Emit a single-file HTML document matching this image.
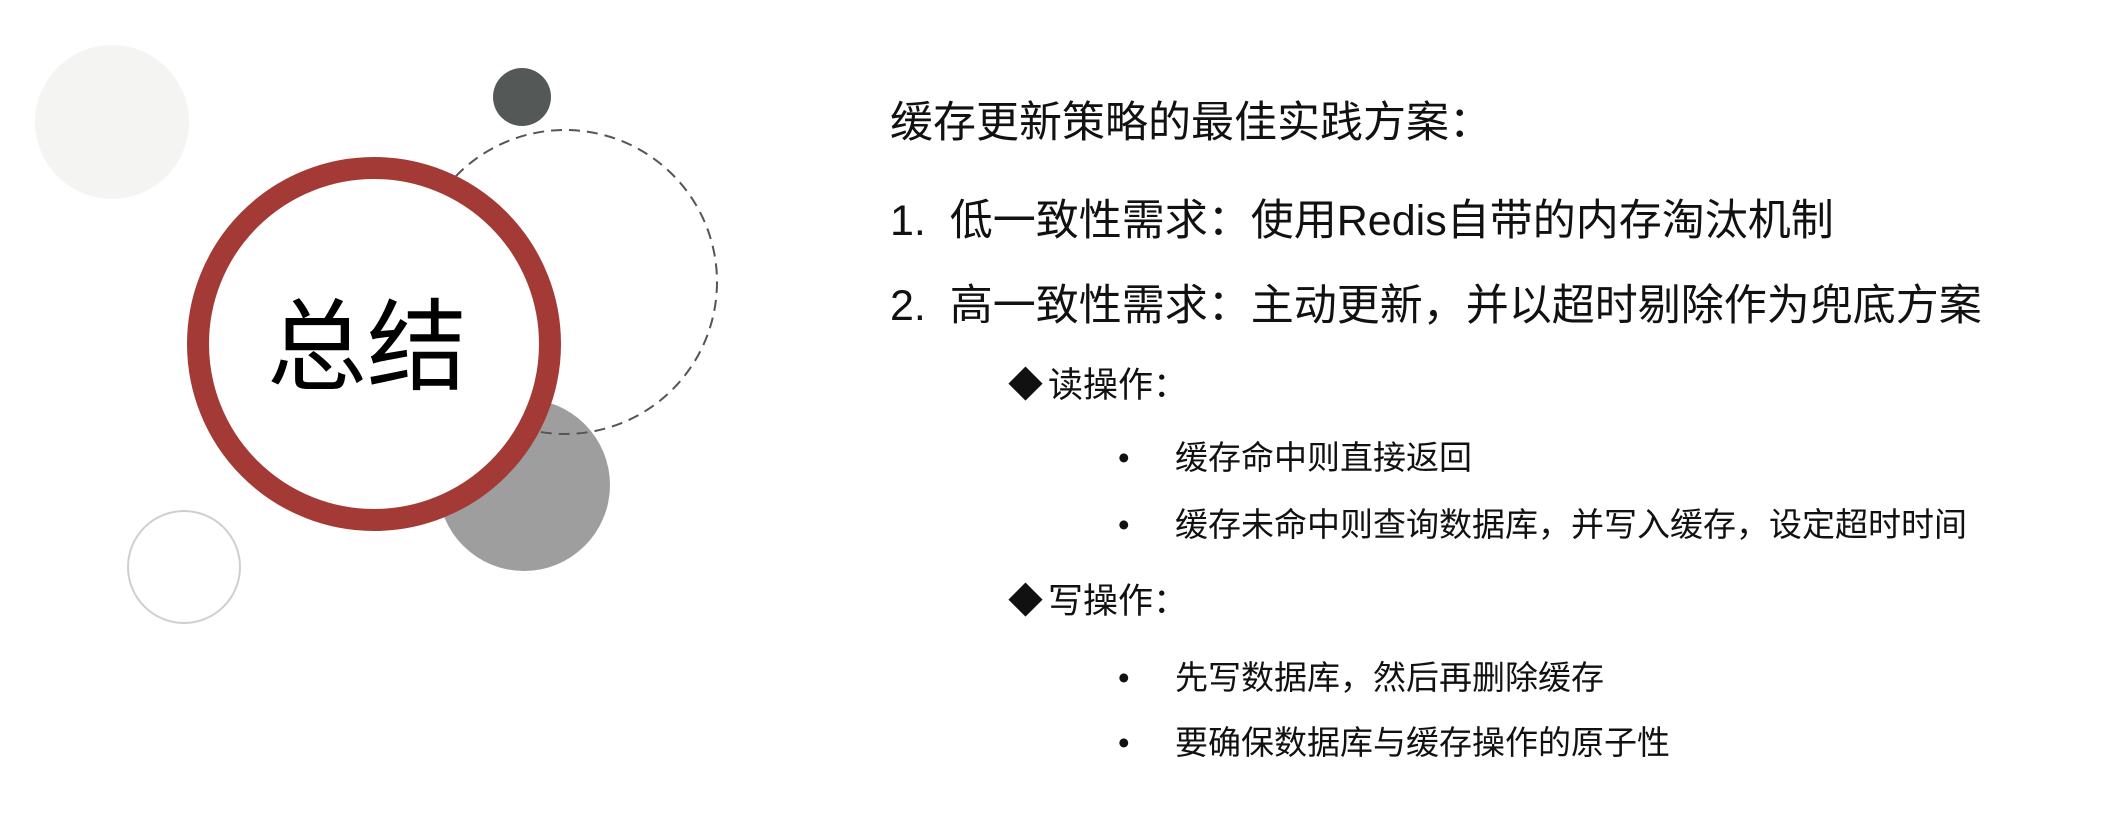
<!DOCTYPE html>
<html><head><meta charset="utf-8"><style>
html,body{margin:0;padding:0;background:#fff;}
body{width:2104px;height:816px;position:relative;overflow:hidden;font-family:"Liberation Sans","Noto Sans CJK SC",sans-serif;color:#111;}
.t{position:absolute;white-space:nowrap;}
</style></head><body>
<svg width="2104" height="816" style="position:absolute;left:0;top:0">
<circle cx="112" cy="122" r="77" fill="#f4f4f3"/>
<circle cx="522" cy="97" r="29" fill="#545856"/>
<circle cx="524" cy="485" r="86" fill="#9e9e9e"/>
<circle cx="565" cy="282" r="152" fill="none" stroke="#555" stroke-width="2" stroke-dasharray="11 7"/>
<circle cx="374" cy="344" r="176" fill="#fff" stroke="#a33a36" stroke-width="22"/>
<circle cx="184" cy="567" r="56" fill="none" stroke="#cfcfcf" stroke-width="2"/>
<text x="367" y="382" font-size="100" text-anchor="middle" font-family="Noto Sans CJK SC, sans-serif" fill="#000">总结</text>
</svg>
<div class="t" style="left:890px;top:102px;font-size:43px;line-height:43px;">缓存更新策略的最佳实践方案：</div>
<div class="t" style="left:890px;top:200px;font-size:43px;line-height:43px;">1.&nbsp;&nbsp;低一致性需求：使用Redis自带的内存淘汰机制</div>
<div class="t" style="left:890px;top:285px;font-size:43px;line-height:43px;">2.&nbsp;&nbsp;高一致性需求：主动更新，并以超时剔除作为兜底方案</div>
<div class="t" style="left:1008px;top:368px;font-size:35px;line-height:35px;">◆</div>
<div class="t" style="left:1048px;top:368px;font-size:35px;line-height:35px;">读操作：</div>
<div class="t" style="left:1118px;top:441px;font-size:33px;line-height:33px;">•</div>
<div class="t" style="left:1175px;top:441px;font-size:33px;line-height:33px;">缓存命中则直接返回</div>
<div class="t" style="left:1118px;top:508px;font-size:33px;line-height:33px;">•</div>
<div class="t" style="left:1175px;top:508px;font-size:33px;line-height:33px;">缓存未命中则查询数据库，并写入缓存，设定超时时间</div>
<div class="t" style="left:1008px;top:584px;font-size:35px;line-height:35px;">◆</div>
<div class="t" style="left:1048px;top:584px;font-size:35px;line-height:35px;">写操作：</div>
<div class="t" style="left:1118px;top:661px;font-size:33px;line-height:33px;">•</div>
<div class="t" style="left:1175px;top:661px;font-size:33px;line-height:33px;">先写数据库，然后再删除缓存</div>
<div class="t" style="left:1118px;top:726px;font-size:33px;line-height:33px;">•</div>
<div class="t" style="left:1175px;top:726px;font-size:33px;line-height:33px;">要确保数据库与缓存操作的原子性</div>
</body></html>
